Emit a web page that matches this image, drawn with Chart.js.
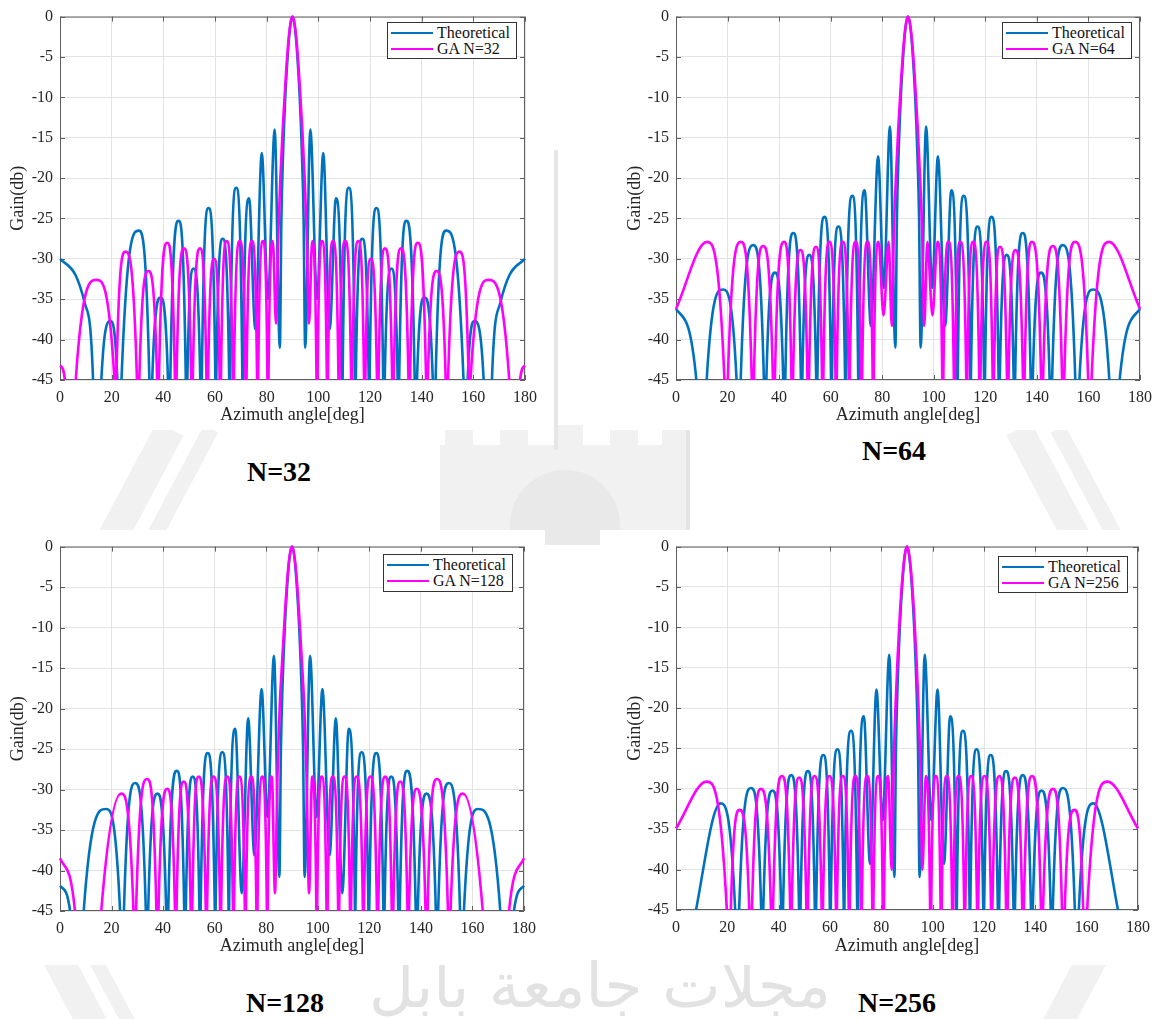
<!DOCTYPE html>
<html>
<head>
<meta charset="utf-8">
<script src="https://cdn.jsdelivr.net/npm/chart.js@4.4.0/dist/chart.umd.min.js"></script>
<style>
  body { margin: 0; background: #fff; width: 1162px; height: 1019px; position: relative; overflow: hidden; font-family: "Liberation Serif", serif; }
  canvas { position: absolute; }
  .wm { position: absolute; background: #f1f1f1; }
  .legend { position: absolute; box-sizing: border-box; border: 1px solid #333; background: #fff; padding: 2px 0 0 3px; font-size: 16px; color: #111; }
  .legend .row { height: 16px; line-height: 16px; white-space: nowrap; display: flex; align-items: center; }
  .legend .ln { display: inline-block; width: 42px; height: 2px; margin-right: 4px; }
  .title { position: absolute; font-weight: bold; font-size: 28px; color: #000; transform: translate(-50%, -50%); white-space: nowrap; }
  .arabic { position: absolute; font-family: "DejaVu Sans", sans-serif; font-size: 62px; color: #e2e2e2; transform: translate(-50%, -50%); white-space: nowrap; }
</style>
</head>
<body>

<!-- faint watermark showing in the gaps between the figures -->
<div class="wm" style="left:120px;top:420px;width:30px;height:150px;transform:rotate(28deg)"></div>
<div class="wm" style="left:168px;top:420px;width:16px;height:150px;transform:rotate(28deg)"></div>
<div class="wm" style="left:440px;top:445px;width:250px;height:100px;"></div>
<div class="wm" style="left:445px;top:425px;width:28px;height:22px;"></div>
<div class="wm" style="left:500px;top:425px;width:28px;height:22px;"></div>
<div class="wm" style="left:555px;top:425px;width:28px;height:22px;"></div>
<div class="wm" style="left:610px;top:425px;width:28px;height:22px;"></div>
<div class="wm" style="left:662px;top:425px;width:28px;height:22px;"></div>
<div class="wm" style="left:510px;top:470px;width:110px;height:75px;border-radius:55px 55px 0 0;background:#e9e9e9"></div>
<div class="wm" style="left:686px;top:420px;width:4px;height:125px;background:#e4e4e4"></div>
<div class="wm" style="left:554px;top:150px;width:4px;height:300px;background:#e6e6e6"></div>
<div class="wm" style="left:1040px;top:420px;width:28px;height:150px;transform:rotate(-28deg)"></div>
<div class="wm" style="left:1085px;top:420px;width:16px;height:150px;transform:rotate(-28deg)"></div>
<div class="wm" style="left:70px;top:950px;width:30px;height:120px;transform:rotate(-28deg)"></div>
<div class="wm" style="left:115px;top:950px;width:14px;height:120px;transform:rotate(-28deg)"></div>
<div class="wm" style="left:1050px;top:950px;width:30px;height:120px;transform:rotate(28deg)"></div>
<div class="arabic" style="left:600px;top:985px;">مجلات جامعة بابل</div>

<canvas id="c32" width="545" height="430" style="left:0;top:0"></canvas>
<canvas id="c64" width="560" height="430" style="left:600px;top:0"></canvas>
<canvas id="c128" width="545" height="435" style="left:0;top:530px"></canvas>
<canvas id="c256" width="560" height="435" style="left:600px;top:530px"></canvas>

<div class="legend" style="left:387px;top:22px;width:130px;height:37px">
  <div class="row"><span class="ln" style="background:#0072bd"></span>Theoretical</div>
  <div class="row"><span class="ln" style="background:#ff00ff"></span>GA N=32</div>
</div>
<div class="legend" style="left:1002px;top:22px;width:130px;height:37px">
  <div class="row"><span class="ln" style="background:#0072bd"></span>Theoretical</div>
  <div class="row"><span class="ln" style="background:#ff00ff"></span>GA N=64</div>
</div>
<div class="legend" style="left:383px;top:554px;width:130px;height:38px">
  <div class="row"><span class="ln" style="background:#0072bd"></span>Theoretical</div>
  <div class="row"><span class="ln" style="background:#ff00ff"></span>GA N=128</div>
</div>
<div class="legend" style="left:998px;top:556px;width:130px;height:37px">
  <div class="row"><span class="ln" style="background:#0072bd"></span>Theoretical</div>
  <div class="row"><span class="ln" style="background:#ff00ff"></span>GA N=256</div>
</div>

<div class="title" style="left:279px;top:472px">N=32</div>
<div class="title" style="left:894px;top:451px">N=64</div>
<div class="title" style="left:285px;top:1003px">N=128</div>
<div class="title" style="left:897px;top:1003px">N=256</div>

<script>
// tick labels
const angleTicks = [0, 20, 40, 60, 80, 100, 120, 140, 160, 180];
const gainTicks = [0, -5, -10, -15, -20, -25, -30, -35, -40, -45];

// [angle, gain dB]; -45 = where a lobe meets the floor, -80 = null below the axis
const theory32 = [
  [0,-30],[6,-32],[9.6,-35.5],[12.8,-45],[14.3,-80],[16,-45],
  [19.5,-37.7],[22.2,-45],[23.3,-80],[23.8,-45],
  [30.5,-26.5],[34.6,-45],[34.9,-80],[35.7,-45],
  [38.9,-34.8],[41.8,-45],[42.5,-80],[42.7,-45],
  [45.9,-25.3],[48.7,-45],[48.9,-80],[49.3,-45],
  [51.7,-31.2],[54.3,-45],[54.7,-80],[54.9,-45],
  [57.5,-23.7],[60.15,-45],[60.3,-80],[60.5,-45],
  [63,-27.5],[65.5,-45],[65.7,-80],[65.8,-45],
  [68.2,-21.2],[70.6,-45],[70.7,-80],[70.8,-45],
  [73.2,-22.5],[75.6,-38.7],[78.1,-16.9],[80.5,-35],[83.1,-14],[85.1,-41],
  [85.7,-25],[86.4,-16.5],[87.2,-10],[88.2,-4.5],[89.1,-1.2],[90,0],
  [90.9,-1.2],[91.8,-4.5],[92.8,-10],[93.6,-16.5],[94.3,-25],
  [94.9,-41],[96.9,-14],[99.5,-35],[101.9,-16.9],[104.4,-38.7],[106.8,-22.5],
  [109.2,-45],[109.3,-80],[109.4,-45],[111.8,-21.2],
  [114.2,-45],[114.3,-80],[114.5,-45],[117,-27.5],
  [119.5,-45],[119.7,-80],[119.85,-45],[122.5,-23.7],
  [125.1,-45],[125.3,-80],[125.7,-45],[128.3,-31.2],
  [130.7,-45],[131.1,-80],[131.3,-45],[134.1,-25.3],
  [137.3,-45],[137.5,-80],[138.2,-45],[141.1,-34.8],
  [144.3,-45],[145.1,-80],[145.4,-45],[149.5,-26.5],
  [156.2,-45],[156.7,-80],[157.8,-45],[160.5,-37.7],
  [164,-45],[165.7,-80],[167.2,-45],[170.4,-35.5],[174,-32],[180,-30]
];
const ga32 = [
  [0,-43.2],[1.9,-45],[4,-80],[6.1,-45],
  [14.1,-32.6],[21.1,-45],[21.4,-80],[21.8,-45],
  [25.3,-29.1],[29.8,-45],[30.2,-80],[30.7,-45],
  [34.2,-31.5],[37.6,-45],[38,-80],[38.3,-45],
  [41.5,-28],[44.5,-45],[44.8,-80],[45.1,-45],
  [48,-28.7],[50.8,-45],[51.1,-80],[51.4,-45],
  [54.2,-28.7],[56.7,-45],[57,-80],[57.3,-45],
  [59.7,-30],[61.8,-45],[62.1,-80],[62.3,-45],
  [64.5,-27.8],[66.9,-45],[67.1,-80],[67.3,-45],
  [69.6,-27.8],[71.8,-45],[72,-80],[72.2,-45],
  [74.3,-27.8],[76.3,-45],[76.5,-80],[76.7,-45],
  [78.6,-27.8],[80.3,-45],[80.5,-80],[80.7,-45],
  [82.4,-27.8],[83.6,-38],
  [84.5,-27],[85.3,-20],[86.2,-14],[87.2,-8.5],[88.3,-3.5],[89.2,-0.9],[90,0],
  [90.8,-0.9],[91.7,-3.5],[92.8,-8.5],[93.8,-14],[94.7,-20],[95.5,-27],
  [96.4,-38],[97.6,-27.8],
  [99.3,-45],[99.5,-80],[99.7,-45],[101.4,-27.8],
  [103.3,-45],[103.5,-80],[103.7,-45],[105.7,-27.8],
  [107.8,-45],[108,-80],[108.2,-45],[110.4,-27.8],
  [112.7,-45],[112.9,-80],[113.1,-45],[115.5,-27.8],
  [117.7,-45],[117.9,-80],[118.2,-45],[120.3,-30],
  [122.7,-45],[123,-80],[123.3,-45],[125.8,-28.7],
  [128.6,-45],[128.9,-80],[129.2,-45],[132,-28.7],
  [134.9,-45],[135.2,-80],[135.5,-45],[138.5,-28],
  [141.7,-45],[142,-80],[142.4,-45],[145.8,-31.5],
  [149.3,-45],[149.8,-80],[150.2,-45],[154.7,-29.1],
  [158.2,-45],[158.6,-80],[158.9,-45],[165.9,-32.6],
  [173.9,-45],[176,-80],[178.1,-45],[180,-43.2]
];

const theory64 = [
  [0,-36.2],[7.9,-45],[10.5,-80],[11.9,-45],
  [18.2,-33.8],[23.5,-45],[24.5,-80],[25.1,-45],
  [30,-28.3],[34.1,-45],[34.5,-80],[35.05,-45],
  [38.4,-31.7],[41.6,-45],[42.1,-80],[42.4,-45],
  [45.5,-26.8],[48.45,-45],[48.7,-80],[49,-45],
  [51.7,-29.5],[54.4,-45],[54.7,-80],[54.85,-45],
  [57.6,-24.8],[60.15,-45],[60.3,-80],[60.5,-45],
  [63,-26],[65.6,-45],[65.7,-80],[65.8,-45],
  [68.4,-22.2],[70.7,-45],[70.8,-80],[70.9,-45],
  [73.2,-21.5],[75.6,-38.3],[78.4,-17.3],[80.6,-33.6],[83,-13.6],[85.1,-41],
  [85.7,-25],[86.4,-16.5],[87.2,-10],[88.2,-4.5],[89.1,-1.2],[90,0],
  [90.9,-1.2],[91.8,-4.5],[92.8,-10],[93.6,-16.5],[94.3,-25],
  [94.9,-41],[97,-13.6],[99.4,-33.6],[101.6,-17.3],[104.4,-38.3],[106.8,-21.5],
  [109.1,-45],[109.2,-80],[109.3,-45],[111.6,-22.2],
  [114.2,-45],[114.3,-80],[114.4,-45],[117,-26],
  [119.5,-45],[119.7,-80],[119.85,-45],[122.4,-24.8],
  [125.15,-45],[125.3,-80],[125.6,-45],[128.3,-29.5],
  [131,-45],[131.3,-80],[131.55,-45],[134.5,-26.8],
  [137.6,-45],[137.9,-80],[138.4,-45],[141.6,-31.7],
  [144.95,-45],[145.5,-80],[145.9,-45],[150,-28.3],
  [154.9,-45],[155.5,-80],[156.5,-45],[161.8,-33.8],
  [168.1,-45],[169.5,-80],[172.1,-45],[180,-36.2]
];
const ga64 = [
  [0,-36.2],[12,-27.9],[18.8,-45],[19.5,-80],[20.1,-45],
  [25.2,-27.9],[29.4,-45],[29.8,-80],[30.2,-45],
  [33.8,-28.4],[37.6,-45],[38,-80],[38.35,-45],
  [41.9,-27.9],[44.8,-45],[45.1,-80],[45.4,-45],
  [48.3,-28.9],[51,-45],[51.3,-80],[51.6,-45],
  [54.3,-28.5],[56.65,-45],[56.9,-80],[57.15,-45],
  [59.5,-27.9],[61.9,-45],[62.1,-80],[62.35,-45],
  [64.7,-27.9],[67,-45],[67.2,-80],[67.4,-45],
  [69.7,-27.9],[71.8,-45],[72,-80],[72.2,-45],
  [74.3,-27.9],[76.3,-45],[76.5,-80],[76.7,-45],
  [78.6,-27.9],[80.5,-37],[82.5,-27.9],[83.7,-38.3],
  [84.5,-27],[85.3,-20],[86.2,-14],[87.2,-8.5],[88.3,-3.5],[89.2,-0.9],[90,0],
  [90.8,-0.9],[91.7,-3.5],[92.8,-8.5],[93.8,-14],[94.7,-20],[95.5,-27],
  [96.3,-38.3],[97.5,-27.9],[99.5,-37],[101.4,-27.9],
  [103.3,-45],[103.5,-80],[103.7,-45],[105.7,-27.9],
  [107.8,-45],[108,-80],[108.2,-45],[110.3,-27.9],
  [112.6,-45],[112.8,-80],[113,-45],[115.3,-27.9],
  [117.65,-45],[117.9,-80],[118.1,-45],[120.5,-27.9],
  [122.85,-45],[123.1,-80],[123.35,-45],[125.7,-28.5],
  [128.4,-45],[128.7,-80],[129,-45],[131.7,-28.9],
  [134.6,-45],[134.9,-80],[135.2,-45],[138.1,-27.9],
  [141.65,-45],[142,-80],[142.4,-45],[146.2,-28.4],
  [149.8,-45],[150.2,-80],[150.6,-45],[154.8,-27.9],
  [159.9,-45],[160.5,-80],[161.2,-45],[168,-27.9],[180,-36.2]
];

const theory128 = [
  [0,-41.9],[3.9,-45],[7.5,-80],[9.2,-45],
  [17.8,-32.4],[23.3,-45],[24.3,-80],[24.8,-45],
  [29.2,-29.2],[33.3,-45],[33.75,-80],[34.2,-45],
  [37.8,-30.5],[41.2,-45],[41.7,-80],[42,-45],
  [45.3,-27.7],[48.2,-45],[48.5,-80],[48.8,-45],
  [51.5,-28.4],[54.1,-45],[54.4,-80],[54.55,-45],
  [57.3,-25.5],[60.05,-45],[60.2,-80],[60.35,-45],
  [63,-25.4],[65.4,-45],[65.5,-80],[65.6,-45],
  [68,-22.5],[70.5,-42.8],[73,-21.2],[75.4,-38.1],[78.2,-17.6],[80.5,-33.4],[83,-13.5],[85.1,-40.8],
  [85.7,-25],[86.4,-16.5],[87.2,-10],[88.2,-4.5],[89.1,-1.2],[90,0],
  [90.9,-1.2],[91.8,-4.5],[92.8,-10],[93.6,-16.5],[94.3,-25],
  [94.9,-40.8],[97,-13.5],[99.5,-33.4],[101.8,-17.6],[104.6,-38.1],[107,-21.2],[109.5,-42.8],[112,-22.5],
  [114.4,-45],[114.5,-80],[114.6,-45],[117,-25.4],
  [119.65,-45],[119.8,-80],[119.95,-45],[122.7,-25.5],
  [125.45,-45],[125.6,-80],[125.9,-45],[128.5,-28.4],
  [131.2,-45],[131.5,-80],[131.8,-45],[134.7,-27.7],
  [138,-45],[138.3,-80],[138.8,-45],[142.2,-30.5],
  [145.8,-45],[146.25,-80],[146.7,-45],[150.8,-29.2],
  [155.2,-45],[155.7,-80],[156.7,-45],[162.2,-32.4],
  [170.8,-45],[172.5,-80],[176.1,-45],[180,-41.9]
];
const ga128 = [
  [0,-38.5],[5.8,-45],[10,-80],[16,-45],
  [23.7,-30.5],[28.5,-45],[29,-80],[29.5,-45],
  [33.8,-28.7],[37.4,-45],[37.8,-80],[38.2,-45],
  [41.6,-29.9],[44.6,-45],[44.9,-80],[45.2,-45],
  [48,-29],[50.7,-45],[51,-80],[51.3,-45],
  [53.8,-28.4],[56.55,-45],[56.8,-80],[57.05,-45],
  [59.6,-28.4],[62.1,-45],[62.3,-80],[62.5,-45],
  [64.9,-28.4],[67.1,-45],[67.3,-80],[67.5,-45],
  [69.6,-28.4],[71.7,-45],[71.9,-80],[72.1,-45],
  [74.2,-28.4],[76.2,-45],[76.4,-80],[76.6,-45],
  [78.5,-28.4],[80.25,-45],[80.4,-80],[80.55,-45],
  [82.2,-28.4],[83.4,-42.8],
  [84.3,-29],[85.2,-20],[86.2,-14],[87.2,-8.5],[88.3,-3.5],[89.2,-0.9],[90,0],
  [90.8,-0.9],[91.7,-3.5],[92.8,-8.5],[93.8,-14],[94.8,-20],[95.7,-29],
  [96.6,-42.8],[97.8,-28.4],
  [99.45,-45],[99.6,-80],[99.75,-45],[101.5,-28.4],
  [103.4,-45],[103.6,-80],[103.8,-45],[105.8,-28.4],
  [107.9,-45],[108.1,-80],[108.3,-45],[110.4,-28.4],
  [112.5,-45],[112.7,-80],[112.9,-45],[115.1,-28.4],
  [117.5,-45],[117.7,-80],[117.9,-45],[120.4,-28.4],
  [122.95,-45],[123.2,-80],[123.45,-45],[126.2,-28.4],
  [128.7,-45],[129,-80],[129.3,-45],[132,-29],
  [134.8,-45],[135.1,-80],[135.4,-45],[138.4,-29.9],
  [141.8,-45],[142.2,-80],[142.6,-45],[146.2,-28.7],
  [150.5,-45],[151,-80],[151.5,-45],[156.3,-30.5],
  [164,-45],[170,-80],[174.2,-45],[180,-38.5]
];

const theory256 = [
  [0,-60],[7.8,-45],
  [17.3,-31.8],[23.05,-45],[24,-80],[24.6,-45],
  [29.3,-29.9],[33.2,-45],[33.6,-80],[34,-45],
  [37.6,-30.2],[41,-45],[41.4,-80],[41.7,-45],
  [44.9,-28.3],[47.95,-45],[48.2,-80],[48.5,-45],
  [51.4,-27.8],[54.1,-45],[54.4,-80],[54.6,-45],
  [57.4,-25.8],[59.95,-45],[60.1,-80],[60.3,-45],
  [62.9,-25.1],[65.35,-45],[65.5,-80],[65.6,-45],
  [68.2,-22.8],[70.6,-45],[70.7,-80],[70.8,-45],
  [73.2,-21],[75.6,-39.3],[78.1,-17.7],[80.5,-33.9],[83.1,-13.4],[85.1,-40.9],
  [85.7,-25],[86.4,-16.5],[87.2,-10],[88.2,-4.5],[89.1,-1.2],[90,0],
  [90.9,-1.2],[91.8,-4.5],[92.8,-10],[93.6,-16.5],[94.3,-25],
  [94.9,-40.9],[96.9,-13.4],[99.5,-33.9],[101.9,-17.7],[104.4,-39.3],[106.8,-21],
  [109.2,-45],[109.3,-80],[109.4,-45],[111.8,-22.8],
  [114.4,-45],[114.5,-80],[114.65,-45],[117.1,-25.1],
  [119.7,-45],[119.9,-80],[120.05,-45],[122.6,-25.8],
  [125.4,-45],[125.6,-80],[125.9,-45],[128.6,-27.8],
  [131.5,-45],[131.8,-80],[132.05,-45],[135.1,-28.3],
  [138.3,-45],[138.6,-80],[139,-45],[142.4,-30.2],
  [146,-45],[146.4,-80],[146.8,-45],[150.7,-29.9],
  [155.4,-45],[156,-80],[156.95,-45],[162.7,-31.8],
  [172.2,-45],[180,-60]
];
const ga256 = [
  [0,-34.9],[11.9,-29.1],[19.8,-45],[20.6,-80],[21.35,-45],
  [24.8,-32.6],[28.55,-45],[29.2,-80],[29.6,-45],
  [33.1,-30],[37,-45],[37.4,-80],[37.8,-45],
  [41.3,-28.4],[44.5,-45],[44.8,-80],[45.1,-45],
  [48,-28.6],[50.8,-45],[51.1,-80],[51.4,-45],
  [54,-28.4],[56.75,-45],[57,-80],[57.25,-45],
  [59.8,-28.4],[62.3,-45],[62.5,-80],[62.7,-45],
  [65,-28.4],[67.3,-45],[67.5,-80],[67.7,-45],
  [69.9,-28.4],[72,-45],[72.2,-80],[72.4,-45],
  [74.5,-28.4],[76.5,-45],[76.7,-80],[76.9,-45],
  [78.8,-28.4],[80.6,-45],[80.8,-80],[81,-45],
  [82.7,-28.4],[84,-40],
  [84.8,-27],[85.5,-20],[86.3,-14],[87.2,-8.5],[88.3,-3.5],[89.2,-0.9],[90,0],
  [90.8,-0.9],[91.7,-3.5],[92.8,-8.5],[93.7,-14],[94.5,-20],[95.2,-27],
  [96,-40],[97.3,-28.4],
  [99,-45],[99.2,-80],[99.4,-45],[101.2,-28.4],
  [103.1,-45],[103.3,-80],[103.5,-45],[105.5,-28.4],
  [107.6,-45],[107.8,-80],[108,-45],[110.1,-28.4],
  [112.3,-45],[112.5,-80],[112.7,-45],[115,-28.4],
  [117.3,-45],[117.5,-80],[117.7,-45],[120.2,-28.4],
  [122.75,-45],[123,-80],[123.25,-45],[126,-28.4],
  [128.6,-45],[128.9,-80],[129.2,-45],[132,-28.6],
  [134.9,-45],[135.2,-80],[135.5,-45],[138.7,-28.4],
  [142.2,-45],[142.6,-80],[143,-45],[146.9,-30],
  [150.4,-45],[150.8,-80],[151.45,-45],[155.2,-32.6],
  [158.65,-45],[159.4,-80],[160.2,-45],[168.1,-29.1],[180,-34.9]
];

const BLUE = '#0072bd';
const MAGENTA = '#ff00ff';
const AXIS = '#5f5f5f';

Chart.defaults.font.family = '"Liberation Serif", serif';
Chart.defaults.font.size = 16;
Chart.defaults.color = '#262626';

// white figure, grey box and inward ticks like matlab axes
const axesBox = {
  id: 'axesBox',
  beforeDraw(chart) {
    const ctx = chart.ctx;
    ctx.save();
    ctx.fillStyle = '#fff';
    ctx.fillRect(0, 0, chart.width, chart.height);
    ctx.restore();
  },
  beforeDatasetsDraw(chart) {
    const { ctx, chartArea: a, scales: { x, y } } = chart;
    ctx.save();
    ctx.strokeStyle = AXIS;
    ctx.lineWidth = 1;
    ctx.strokeRect(a.left + 0.5, a.top + 0.5, a.width - 1, a.height - 1);
    ctx.beginPath();
    angleTicks.forEach(v => {
      const px = Math.round(x.getPixelForValue(v)) + 0.5;
      ctx.moveTo(px, a.bottom); ctx.lineTo(px, a.bottom - 5);
      ctx.moveTo(px, a.top); ctx.lineTo(px, a.top + 5);
    });
    gainTicks.forEach(v => {
      const py = Math.round(y.getPixelForValue(v)) + 0.5;
      ctx.moveTo(a.left, py); ctx.lineTo(a.left + 5, py);
      ctx.moveTo(a.right, py); ctx.lineTo(a.right - 5, py);
    });
    ctx.stroke();
    ctx.restore();
  }
};

function toXY(list) {
  return list.map(p => ({ x: p[0], y: p[1] }));
}

function drawPlot(id, theory, ga, gaName, box) {
  new Chart(document.getElementById(id), {
    type: 'line',
    data: {
      datasets: [
        { label: 'Theoretical', data: toXY(theory), borderColor: BLUE, order: 1 },
        { label: gaName, data: toXY(ga), borderColor: MAGENTA, order: 0 }
      ]
    },
    options: {
      responsive: false,
      animation: false,
      devicePixelRatio: 1,
      layout: { padding: { left: 0, top: box.top, right: box.right, bottom: 0 } },
      elements: {
        point: { radius: 0 },
        line: { borderWidth: 2.6, cubicInterpolationMode: 'monotone', fill: false }
      },
      datasets: { line: { clip: { left: 1, right: 1, top: 2, bottom: 0 } } },
      plugins: { legend: { display: false }, tooltip: { enabled: false } },
      scales: {
        x: {
          type: 'linear', min: 0, max: 180,
          afterBuildTicks: s => { s.ticks = angleTicks.map(v => ({ value: v })); },
          afterFit: s => { s.height = box.xh; },
          grid: { color: '#e3e3e3', drawTicks: false },
          border: { display: false },
          ticks: { padding: 8, maxRotation: 0 },
          title: { display: true, text: 'Azimuth angle[deg]', font: { size: 18 }, padding: { top: 0, bottom: box.xtb } }
        },
        y: {
          type: 'linear', min: -45, max: 0,
          afterBuildTicks: s => { s.ticks = gainTicks.map(v => ({ value: v })); },
          afterFit: s => { s.width = box.yw; },
          grid: { color: '#e3e3e3', drawTicks: false },
          border: { display: false },
          ticks: { padding: 7 },
          title: { display: true, text: 'Gain(db)', font: { size: 18 }, padding: { top: box.ytp, bottom: 0 } }
        }
      }
    },
    plugins: [axesBox]
  });
}

drawPlot('c32', theory32, ga32, 'GA N=32', { top: 12, right: 18, yw: 60, xh: 50, xtb: 4, ytp: 7 });
drawPlot('c64', theory64, ga64, 'GA N=64', { top: 12, right: 17, yw: 76, xh: 50, xtb: 4, ytp: 24 });
drawPlot('c128', theory128, ga128, 'GA N=128', { top: 15, right: 21, yw: 60, xh: 54, xtb: 8, ytp: 7 });
drawPlot('c256', theory256, ga256, 'GA N=256', { top: 15, right: 22, yw: 76, xh: 55, xtb: 8, ytp: 24 });
</script>
</body>
</html>
